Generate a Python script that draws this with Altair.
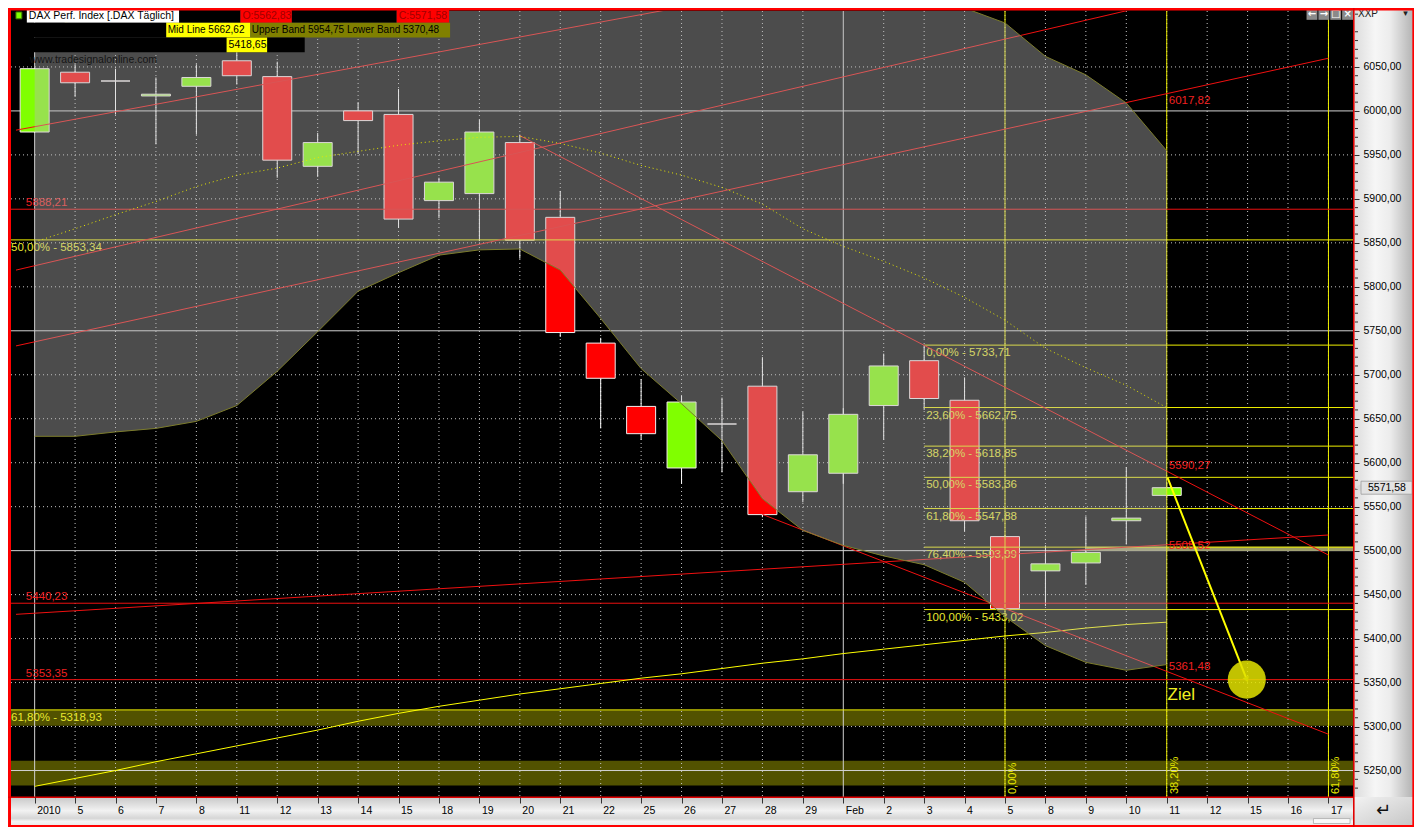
import altair as alt
import pandas as pd

FONT = "Liberation Sans"

# ---------------- data ----------------
dates = ["2010", "5", "6", "7", "8", "11", "12", "13", "14", "15", "18", "19", "20",
         "21", "22", "25", "26", "27", "28", "29", "Feb", "2", "3", "4", "5", "8", "9",
         "10", "11", "12", "15", "16", "17"]

opens = [5976, 6044, 6034, 6017, 6028, 6057, 6039, 5937, 6000, 5996, 5898, 5906, 5964, 5879,
         5736, 5664, 5594, 5644, 5687, 5567, 5588, 5665, 5716, 5671, 5516, 5477, 5486, 5534, 5562.83]
highs = [6049, 6053, 6048, 6038, 6053, 6067, 6056, 5975, 6010, 6025, 5924, 5990, 5973, 5909,
         5742, 5695, 5676, 5674, 5720, 5658, 5662, 5724, 5733.71, 5697, 5518, 5506, 5539, 5595, 5578]
lows = [5975, 6016, 5996, 5962, 5973, 6030, 5924, 5925, 5951, 5867, 5878, 5852, 5832, 5743,
        5639, 5626, 5576, 5589, 5538, 5555, 5576, 5626, 5660, 5522, 5433.02, 5437, 5461, 5507, 5560]
closes = [6048, 6032, 6034, 6019, 6038, 6040, 5944, 5964, 5989, 5877, 5919, 5976, 5853, 5748,
          5696, 5633, 5669, 5644, 5541, 5609, 5655, 5710, 5673, 5534, 5434, 5485, 5498, 5537, 5571.58]

bb_mid = [5851, 5866, 5882, 5897, 5914, 5927, 5935, 5947, 5954, 5961, 5966, 5970, 5971, 5963,
          5952, 5938, 5927, 5913, 5894, 5866, 5846, 5829, 5810, 5788, 5762, 5730, 5708, 5688, 5662.62]
bb_upper = [6085, 6105, 6130, 6155, 6180, 6190, 6170, 6150, 6135, 6135, 6140, 6150, 6160, 6170,
            6175, 6180, 6190, 6200, 6230, 6210, 6187, 6165, 6140, 6117, 6100, 6062, 6041, 6009, 5954.75]
bb_lower = [5630, 5630, 5635, 5639, 5647, 5665, 5704, 5749, 5795, 5816, 5836, 5842, 5843, 5819,
            5764, 5707, 5667, 5625, 5559, 5523, 5506, 5494, 5484, 5464, 5425, 5392, 5373, 5364, 5370.48]
sma200 = [5232, 5241, 5250, 5260, 5269, 5278, 5287, 5296, 5306, 5315, 5323, 5330, 5337, 5343,
          5349, 5355, 5360, 5366, 5372, 5377, 5383, 5388, 5393, 5398, 5403, 5407, 5412, 5416, 5418.65]

# trend lines: start (day index, value) -> end (day index, value)
tl_id = ["L1", "L2", "L3", "L4", "L5", "L6"]
tl_i0 = [-0.461, -0.461, -0.461, -0.461, 12.0, 18.0]
tl_v0 = [5978.1, 5732.8, 5819.0, 5427.6, 5971.9, 5541.2]
tl_i1 = [18.89, 32.0, 28.02, 32.0, 32.0, 32.0]
tl_v1 = [6142.6, 6059.9, 6124.8, 5517.8, 5495.0, 5291.3]

red_levels = [5888.21, 5440.23, 5353.35]
red_level_text = ["5888,21", "5440,23", "5353,35"]
yel_levels = [5853.34, 5318.93]
yel_level_text = ["50,00% - 5853,34", "61,80% - 5318,93"]
zone_lo = [5301.0, 5233.0]
zone_hi = [5318.93, 5261.0]

fib_start = 22
fib_val = [5733.71, 5662.75, 5618.85, 5583.36, 5547.88, 5503.99, 5433.02]
fib_text = ["0,00% - 5733,71", "23,60% - 5662,75", "38,20% - 5618,85", "50,00% - 5583,36",
            "61,80% - 5547,88", "76,40% - 5503,99", "100,00% - 5433,02"]

time_idx = [24, 28, 32]
time_text = ["0,00%", "38,20%", "61,80%"]

tag_idx = 28
tag_val = [6017.82, 5590.27, 5505.52, 5361.48]
tag_text = ["6017,82", "5590,27", "5505,52", "5361,48"]

arrow_i = [28.02, 29.98]
arrow_v = [5583.0, 5353.35]
target_i = 29.98
target_v = 5353.35
ziel_v = 5336.0
last_close = 5571.58

# ---------------- geometry ----------------
W, H = 1343, 786
SX, SY = W / 1358, H / 801


def px(x):
    return (x - 3) * SX


def py(y):
    return (y - 3) * SY


xs = alt.Scale(domain=[-0.4613, 32.508], nice=False, zero=False)
ys = alt.Scale(domain=[5219.9, 6113.6], nice=False, zero=False)

label_js = "[" + ",".join("'%s'" % d for d in dates) + "][datum.value]"
XAX = alt.Axis(values=list(range(len(dates))), labelExpr=label_js, title=None, domain=False,
               grid=False, ticks=True, tickSize=6, tickColor="#333333", labelColor="#000000",
               labelFont=FONT, labelFontSize=10.5, labelAlign="left", labelBaseline="middle",
               labelOffset=2, labelPadding=7, labelFlush=False, labelOverlap=False, zindex=1)
YAX = alt.Axis(orient="right", values=list(range(5250, 6051, 50)),
               labelExpr="replace(format(datum.value, '.2f'), '.', ',')", title=None,
               domain=False, grid=False, tickSize=5, tickColor="#333333", labelColor="#000000",
               labelFont=FONT, labelFontSize=10.5, labelAlign="left", labelBaseline="middle",
               labelPadding=4, labelFlush=False, labelOverlap=False, zindex=1)


def X(f):
    return alt.X(f, type="quantitative", scale=xs, axis=XAX)


def Y(f):
    return alt.Y(f, type="quantitative", scale=ys, axis=YAX)


one = pd.DataFrame({"k": [0]})


def deco_rect(x0, y0, x1, y1, **kw):
    return alt.Chart(one).mark_rect(**kw).encode(
        x=alt.value(px(x0)), x2=alt.value(px(x1)), y=alt.value(py(y0)), y2=alt.value(py(y1)))


def deco_text(x, y, s, **kw):
    kw.setdefault("font", FONT)
    kw.setdefault("fontSize", 10.5)
    kw.setdefault("align", "left")
    kw.setdefault("baseline", "middle")
    return alt.Chart(one).mark_text(text=s, **kw).encode(x=alt.value(px(x)), y=alt.value(py(y)))


layers = []

# ---------------- grid ----------------
zones = pd.DataFrame({"lo": zone_lo, "hi": zone_hi})
layers.append(alt.Chart(zones).mark_rect(color="#525200", clip=True).encode(
    x=alt.value(0), x2=alt.value(W), y=Y("lo"), y2=alt.Y2("hi")))

hv = list(range(5250, 6051, 50))
hgrid = pd.DataFrame({"v": [v for v in hv if v % 250 != 0]})
hsolid = pd.DataFrame({"v": [v for v in hv if v % 250 == 0]})
vgrid = pd.DataFrame({"i": [i for i in range(len(dates)) if dates[i] not in ("2010", "Feb")]})
vsolid = pd.DataFrame({"i": [i for i in range(len(dates)) if dates[i] in ("2010", "Feb")]})

layers.append(alt.Chart(hgrid).mark_rule(color="#C4C4C4", strokeDash=[1, 3], strokeWidth=1).encode(
    x=alt.value(0), x2=alt.value(W), y=Y("v")))
layers.append(alt.Chart(vgrid).mark_rule(color="#C4C4C4", strokeDash=[1, 3], strokeWidth=1).encode(
    x=X("i"), y=alt.value(0), y2=alt.value(H)))
layers.append(alt.Chart(hsolid).mark_rule(color="#D2D2D2", strokeWidth=1).encode(
    x=alt.value(0), x2=alt.value(W), y=Y("v")))
layers.append(alt.Chart(vsolid).mark_rule(color="#D2D2D2", strokeWidth=1).encode(
    x=X("i"), y=alt.value(0), y2=alt.value(H)))

# ---------------- candles ----------------
cd = pd.DataFrame({"i": list(range(len(opens))), "o": opens, "h": highs, "l": lows, "c": closes})
cd["dir"] = ["up" if c > o else ("down" if c < o else "flat") for o, c in zip(opens, closes)]
layers.append(alt.Chart(cd).mark_rule(color="#FFFFFF", strokeWidth=1, clip=True).encode(
    x=X("i"), y=Y("l"), y2=alt.Y2("h")))
layers.append(alt.Chart(cd).mark_bar(size=29, stroke="#F4ECEC", strokeWidth=1, clip=True).encode(
    x=X("i"), y=Y("o"), y2=alt.Y2("c"),
    color=alt.Color("dir:N", scale=alt.Scale(domain=["up", "down", "flat"],
                                             range=["#80FF00", "#FF0000", "#FFFFFF"]), legend=None)))

# ---------------- levels and lines ----------------
tan = pd.DataFrame({"i": [26], "lo": [5500.0], "hi": [5504.5]})
layers.append(alt.Chart(tan).mark_rect(color="#9A9A60", clip=True).encode(
    x=X("i"), x2=alt.value(W), y=Y("lo"), y2=alt.Y2("hi")))

tz = pd.DataFrame({"i": time_idx, "t": time_text})
layers.append(alt.Chart(tz).mark_rule(color="#F0F000", strokeWidth=1).encode(
    x=X("i"), y=alt.value(0), y2=alt.value(H)))
layers.append(alt.Chart(tz).mark_text(angle=270, align="left", baseline="top", dy=2, dx=3,
                                      color="#E8E800", font=FONT, fontSize=11).encode(
    x=X("i"), y=alt.value(H), text="t:N"))

red_df = pd.DataFrame({"v": red_levels, "t": red_level_text})
layers.append(alt.Chart(red_df).mark_rule(color="#EE1010", strokeWidth=1).encode(
    x=alt.value(0), x2=alt.value(W), y=Y("v")))
layers.append(alt.Chart(red_df).mark_text(align="left", baseline="bottom", dy=-1, color="#EE2020",
                                          font=FONT, fontSize=11.5).encode(
    x=alt.value(px(18)), y=Y("v"), text="t:N"))

yel_df = pd.DataFrame({"v": yel_levels, "t": yel_level_text})
layers.append(alt.Chart(yel_df).mark_rule(color="#F0F000", strokeWidth=1).encode(
    x=alt.value(0), x2=alt.value(W), y=Y("v")))
layers.append(alt.Chart(yel_df).mark_text(align="left", baseline="top", dy=2, color="#E8E830",
                                          font=FONT, fontSize=11.5).encode(
    x=alt.value(px(3)), y=Y("v"), text="t:N"))

fib = pd.DataFrame({"i": [fib_start] * len(fib_val), "v": fib_val, "t": fib_text})
layers.append(alt.Chart(fib).mark_rule(color="#F0F000", strokeWidth=1).encode(
    x=X("i"), x2=alt.value(W), y=Y("v")))
layers.append(alt.Chart(fib).mark_text(align="left", baseline="top", dx=2, dy=2, color="#E8E830",
                                       font=FONT, fontSize=11.5).encode(
    x=X("i"), y=Y("v"), text="t:N"))

sma = pd.DataFrame({"i": list(range(len(sma200))), "v": sma200})
layers.append(alt.Chart(sma).mark_line(color="#FFFF00", strokeWidth=1, clip=True).encode(
    x=X("i"), y=Y("v")))

rows = []
for n, a0, v0, a1, v1 in zip(tl_id, tl_i0, tl_v0, tl_i1, tl_v1):
    rows.append({"id": n, "i": a0, "v": v0, "o": 0})
    rows.append({"id": n, "i": a1, "v": v1, "o": 1})
tl = pd.DataFrame(rows)
layers.append(alt.Chart(tl).mark_line(color="#F01010", strokeWidth=1, clip=True).encode(
    x=X("i"), y=Y("v"), detail="id:N", order="o:Q"))

# ---------------- Bollinger overlay ----------------
bb = pd.DataFrame({"i": list(range(len(bb_mid))), "m": bb_mid, "u": bb_upper, "l": bb_lower})
layers.append(alt.Chart(bb).mark_area(color="#B9B9B9", opacity=0.41, clip=True).encode(
    x=X("i"), y=Y("u"), y2=alt.Y2("l")))
layers.append(alt.Chart(bb).mark_line(color="#7C7C2C", strokeWidth=1, clip=True).encode(
    x=X("i"), y=Y("l")))
layers.append(alt.Chart(bb).mark_line(color="#7C7C2C", strokeWidth=1, clip=True).encode(
    x=X("i"), y=Y("u")))
layers.append(alt.Chart(bb).mark_line(color="#E8E800", strokeWidth=1, strokeDash=[1, 3], clip=True).encode(
    x=X("i"), y=Y("m")))

# ---------------- tags, arrow, target ----------------
tags = pd.DataFrame({"i": [tag_idx] * 4, "v": tag_val, "t": tag_text})
for k, base in enumerate(["top", "bottom", "middle", "bottom"]):
    layers.append(alt.Chart(tags.iloc[[k]]).mark_text(align="left", baseline=base, dx=2,
                                                      color="#F02020", font=FONT, fontSize=11.5).encode(
        x=X("i"), y=Y("v"), text="t:N"))

arr = pd.DataFrame({"i": arrow_i, "v": arrow_v, "o": [0, 1]})
layers.append(alt.Chart(arr).mark_line(color="#FFFF00", strokeWidth=2, clip=True).encode(
    x=X("i"), y=Y("v"), order="o:Q"))
tgt = pd.DataFrame({"i": [target_i], "v": [target_v]})
layers.append(alt.Chart(tgt).mark_point(shape="triangle-down", angle=338, size=45, filled=True,
                                        color="#9A9A00", opacity=1).encode(x=X("i"), y=Y("v")))
layers.append(alt.Chart(tgt).mark_circle(size=1450, color="#E2E200", opacity=0.86).encode(
    x=X("i"), y=Y("v")))
zl = pd.DataFrame({"i": [28.02], "v": [ziel_v], "t": ["Ziel"]})
layers.append(alt.Chart(zl).mark_text(align="left", baseline="middle", color="#F0F020", font=FONT,
                                      fontSize=17).encode(x=X("i"), y=Y("v"), text="t:N"))

# ---------------- header ----------------
layers += [
    deco_rect(3, 2, 19, 15, color="#000000"),
    deco_rect(8, 4, 14, 11, color="#80FF00", stroke="#3A7000", strokeWidth=1),
    deco_rect(19, 2, 173, 15, color="#FFFFFF"),
    deco_text(21, 8.5, "DAX Perf. Index [.DAX  Täglich]", color="#000000"),
    deco_rect(173, 2, 235, 15, color="#000000"),
    deco_rect(235, 2, 287, 15, color="#FF0000"),
    deco_text(237, 8.5, "O:5562,83", color="#A00000"),
    deco_rect(287, 2, 393, 15, color="#000000"),
    deco_rect(393, 2, 446, 15, color="#FF0000"),
    deco_text(395, 8.5, "C:5571,58", color="#A00000"),
    deco_rect(3, 15, 160, 30, color="#000000"),
    deco_rect(160, 15, 245, 30, color="#FFFF00"),
    deco_text(161.5, 22.5, "Mid Line 5662,62", color="#000000", fontSize=10),
    deco_rect(245, 15, 447, 30, color="#808000"),
    deco_text(246.5, 22.5, "Upper Band 5954,75 Lower Band 5370,48", color="#000000", fontSize=10),
    deco_rect(3, 30, 300, 45, color="#000000"),
    deco_rect(221, 30, 262, 45, color="#FFFF00"),
    deco_text(223, 37.5, "5418,65", color="#000000"),
    deco_text(22, 53, "www.tradesignalonline.com", color="#151515", fontSize=10.5),
]
for k, g in enumerate(["\u2190", "\u2192", "\u25a1", "\u00d7"]):
    x0 = 1313 + 12 * k
    layers.append(deco_rect(x0, 1, x0 + 11, 12, color="#8A8A8A"))
    layers.append(deco_text(x0 + 5.5, 6.5, g, color="#FFFFFF", align="center", fontSize=10,
                            font="DejaVu Sans", fontWeight="bold"))

# ---------------- panels ----------------
right_grad = alt.LinearGradient(gradient="linear", x1=0, x2=1, y1=0, y2=0, stops=[
    alt.GradientStop(color="#DCDCDC", offset=0), alt.GradientStop(color="#F6F6F6", offset=0.35),
    alt.GradientStop(color="#ECECEC", offset=0.6), alt.GradientStop(color="#B0B0B0", offset=1)])
bottom_grad = alt.LinearGradient(gradient="linear", x1=0, x2=0, y1=0, y2=1, stops=[
    alt.GradientStop(color="#C8C8C8", offset=0), alt.GradientStop(color="#F2F2F2", offset=0.45),
    alt.GradientStop(color="#D6D6D6", offset=0.7), alt.GradientStop(color="#F4F4F4", offset=0.8),
    alt.GradientStop(color="#E6E6E6", offset=1)])
corner_grad = alt.LinearGradient(gradient="linear", x1=0, x2=1, y1=0, y2=1, stops=[
    alt.GradientStop(color="#F2F2F2", offset=0), alt.GradientStop(color="#C4C4C4", offset=1)])

layers += [
    deco_rect(1361, 0, 1422, 805, fill=right_grad),
    deco_rect(0, 804, 1361, 835, fill=bottom_grad),
    deco_rect(1361, 804, 1422, 835, fill=corner_grad),
    deco_rect(1320, 826, 1357, 831, color="#FAFAFA", stroke="#A0A0A0", strokeWidth=0.7),
    deco_text(1391, 818, "\u21b5", color="#101010", align="center", fontSize=18, font="DejaVu Sans"),
    deco_text(1365, 6, "XXP", color="#202020", fontSize=10),
    deco_text(1413, 5, "\u25be", color="#202020", fontSize=9, align="center", font="DejaVu Sans"),
]

minor = pd.DataFrame({"v": [v for v in range(5230, 6111, 10) if v % 50 != 0]})
layers.append(alt.Chart(minor).mark_rule(color="#333333", strokeWidth=1).encode(
    x=alt.value(W + 1), x2=alt.value(W + 4), y=Y("v")))

lc = pd.DataFrame({"v": [last_close], "t": ["5571,58"]})
layers.append(alt.Chart(lc).mark_point(shape="triangle-left", size=60, filled=True, color="#D8D8D8",
                                       opacity=1).encode(x=alt.value(W + 4), y=Y("v")))
layers.append(alt.Chart(lc).mark_rect(color="#E2E2E2", stroke="#9C9C9C", strokeWidth=0.8, height=13).encode(
    x=alt.value(W + 7), x2=alt.value(W + 58), y=Y("v")))
layers.append(alt.Chart(lc).mark_text(align="left", baseline="middle", color="#000000", font=FONT,
                                      fontSize=10.5).encode(x=alt.value(W + 14), y=Y("v"), text="t:N"))

# ---------------- red frame ----------------
layers += [
    deco_rect(0, 0, 3, 835, color="#FF0000"),
    deco_rect(0, 0, 1422, 2.5, color="#FF0000"),
    deco_rect(1420, 0, 1422, 835, color="#FF0000"),
    deco_rect(0, 832.5, 1422, 835, color="#FF0000"),
    deco_rect(1360, 0, 1361.6, 835, color="#E00000"),
    deco_rect(0, 803.5, 1361, 805, color="#E00000"),
]

chart = alt.layer(*layers).properties(
    width=W, height=H,
    autosize=alt.AutoSizeParams(type="none"),
    padding={"left": 3, "top": 3, "right": 60, "bottom": 30},
    background="#000000",
).configure_view(stroke=None, fill="#000000")

chart.save("out.html", embed_options={"renderer": "svg", "actions": False})
